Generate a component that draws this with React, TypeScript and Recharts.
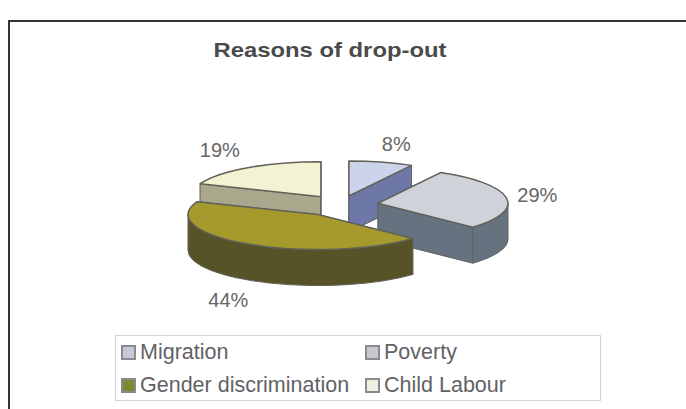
import React from "react";
import { PieChart, Pie, Legend } from "recharts";

const categories = ["Migration", "Poverty", "Gender discrimination", "Child Labour"];
const shares = [8, 29, 44, 19];

// Slices are painted back to front, so the table starts at Child Labour.
const paintOrder = [3, 0, 1, 2];
const pieRows = paintOrder.map((i) => ({ name: categories[i], value: shares[i] }));

const topColors: Record<string, string> = {
  Migration: "#ccd4ea",
  Poverty: "#cfd3d9",
  "Gender discrimination": "#a69a2c",
  "Child Labour": "#f3f3d3",
};
const wallColors: Record<string, string> = {
  Migration: "#6d77a8",
  Poverty: "#66727f",
  "Gender discrimination": "#575227",
  "Child Labour": "#a9a88c",
};
const swatchColors = ["#c6cad8", "#c9c9cd", "#7f8a30", "#efefdf"];

// Screen offset of each percentage label from its slice's outer rim.
const labelNudge: Record<string, [number, number]> = {
  Migration: [15, -16],
  Poverty: [29, -3],
  "Gender discrimination": [-18, 56],
  "Child Labour": [-22, -17],
};

// Small per-slice shift on top of the radial explosion.
const sliceShift: Record<string, [number, number]> = {
  Migration: [0, 2],
  Poverty: [-2, 0],
  "Gender discrimination": [2, 0],
  "Child Labour": [6, 1],
};

const SQUASH = 35 / 130;
const DEPTH = 36;
const EXPLODE = 42;
const RAD = Math.PI / 180;

function explodedApex(cx: number, cy: number, clockMid: number): [number, number] {
  return [
    cx + EXPLODE * Math.sin(clockMid * RAD),
    cy - EXPLODE * SQUASH * Math.cos(clockMid * RAD),
  ];
}

function Slice3D(props: any) {
  const { cx, cy, outerRadius, startAngle, endAngle, name } = props;
  const label = name ?? props.payload?.name;
  const a0 = 90 - startAngle;
  const a1 = 90 - endAngle;
  const [bx, by] = explodedApex(cx, cy, (a0 + a1) / 2);
  const [sx, sy] = sliceShift[label];
  const ax = bx + sx;
  const ay = by + sy;
  const rx = outerRadius;
  const ry = outerRadius * SQUASH;
  const pt = (a: number): [number, number] => [
    ax + rx * Math.sin(a * RAD),
    ay - ry * Math.cos(a * RAD),
  ];
  const [x0, y0] = pt(a0);
  const [x1, y1] = pt(a1);
  const large = a1 - a0 > 180 ? 1 : 0;
  const stroke = "#62625a";
  const top = `M${ax},${ay}L${x0},${y0}A${rx},${ry} 0 ${large} 1 ${x1},${y1}Z`;

  const face = (x: number, y: number) =>
    `M${ax},${ay}L${x},${y}L${x},${y + DEPTH}L${ax},${ay + DEPTH}Z`;

  // The rim wall only shows on the near half of the ellipse.
  const walls: string[] = [];
  const lo = Math.max(a0, 90);
  const hi = Math.min(a1, 270);
  if (hi > lo) {
    const [wx0, wy0] = pt(lo);
    const [wx1, wy1] = pt(hi);
    walls.push(
      `M${wx0},${wy0}A${rx},${ry} 0 0 1 ${wx1},${wy1}L${wx1},${wy1 + DEPTH}A${rx},${ry} 0 0 0 ${wx0},${wy0 + DEPTH}Z`,
    );
  }

  const wall = wallColors[label];
  return (
    <g>
      <path d={face(x0, y0)} fill={wall} stroke={stroke} strokeWidth={1} />
      <path d={face(x1, y1)} fill={wall} stroke={stroke} strokeWidth={1} />
      {walls.map((d) => (
        <path key={d} d={d} fill={wall} stroke={stroke} strokeWidth={1} />
      ))}
      <path d={top} fill={topColors[label]} stroke={stroke} strokeWidth={1.5} strokeLinejoin="round" />
    </g>
  );
}

function percentLabel(props: any) {
  const { cx, cy, outerRadius, midAngle, name, value } = props;
  const clock = 90 - midAngle;
  const [ax, ay] = explodedApex(cx, cy, clock);
  const ex = ax + outerRadius * Math.sin(clock * RAD);
  const ey = ay - outerRadius * SQUASH * Math.cos(clock * RAD);
  const [dx, dy] = labelNudge[name];
  return (
    <text
      x={ex + dx}
      y={ey + dy}
      textAnchor="middle"
      dominantBaseline="central"
      fontFamily="Liberation Sans"
      fontSize={20}
      fill="#666"
    >
      {value}%
    </text>
  );
}

function LegendBox() {
  return (
    <div
      style={{
        position: "absolute",
        left: 115,
        top: 335,
        width: 486,
        height: 66,
        boxSizing: "border-box",
        border: "1px solid #d4d4d8",
        fontFamily: "Liberation Sans",
        fontSize: 21.5,
        color: "#626266",
      }}
    >
      {categories.map((c, i) => (
        <div
          key={c}
          style={{
            position: "absolute",
            left: i % 2 ? 249 : 5,
            top: i < 2 ? 5 : 38,
            display: "flex",
            alignItems: "center",
            height: 22,
            whiteSpace: "nowrap",
          }}
        >
          <span
            style={{
              width: 11,
              height: 11,
              marginRight: 4,
              border: "2px solid #8a8a92",
              background: swatchColors[i],
            }}
          />
          {c}
        </div>
      ))}
    </div>
  );
}

export default function App() {
  return (
    <div style={{ position: "absolute", left: 0, top: 0, width: 686, height: 409, background: "#fff", overflow: "hidden" }}>
      <div
        style={{
          position: "absolute",
          left: 8,
          top: 20,
          width: 700,
          height: 420,
          border: "2px solid #333",
          boxSizing: "border-box",
        }}
      />
      <PieChart width={686} height={409} margin={{ top: 0, right: 0, bottom: 0, left: 0 }} style={{ position: "absolute", left: 0, top: 0 }}>
        <text
          x={330}
          y={49}
          textAnchor="middle"
          dominantBaseline="central"
          fontFamily="Liberation Sans"
          fontWeight="bold"
          fontSize={21}
          textLength={233}
          lengthAdjust="spacingAndGlyphs"
          fill="#4a4a4a"
        >
          Reasons of drop-out
        </text>
        <Pie
          data={pieRows}
          dataKey="value"
          nameKey="name"
          cx={338.5}
          cy={205}
          innerRadius={0}
          outerRadius={130}
          startAngle={158.4}
          endAngle={-201.6}
          paddingAngle={0}
          stroke="none"
          shape={(p: any) => <Slice3D {...p} />}
          label={percentLabel}
          labelLine={false}
          isAnimationActive={false}
        />
        <Legend content={() => <LegendBox />} wrapperStyle={{ position: "absolute", left: 0, top: 0, width: 0, height: 0 }} />
      </PieChart>
    </div>
  );
}
